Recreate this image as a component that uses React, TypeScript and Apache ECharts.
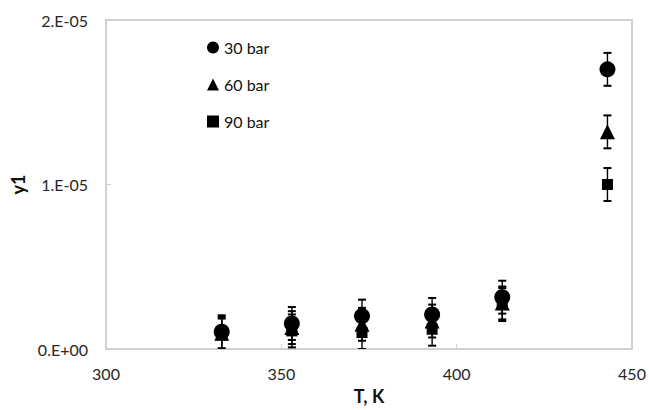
import React, { useEffect, useRef } from "react";
import * as echarts from "echarts";

const temps = [333, 353, 373, 393, 413, 443];
const y30 = [1.05e-6, 1.55e-6, 2.0e-6, 2.1e-6, 3.15e-6, 1.7e-5];
const y60 = [0.95e-6, 1.3e-6, 1.5e-6, 1.7e-6, 2.8e-6, 1.32e-5];
const y90 = [0.85e-6, 1.1e-6, 1.0e-6, 1.2e-6, 2.7e-6, 1.0e-5];
const err30 = [1e-6, 1e-6, 1e-6, 1e-6, 1e-6, 1e-6];
const err60 = [1e-6, 1e-6, 1e-6, 1e-6, 1e-6, 1e-6];
const err90 = [1e-6, 1e-6, 1e-6, 1e-6, 1e-6, 1e-6];
const seriesNames = ["30 bar", "60 bar", "90 bar"];
const xTicks = { min: 300, max: 450, interval: 50 };
const yTicks = { min: 0, max: 2e-5, interval: 1e-5 };

const FONT = "Lato, 'Noto Sans', sans-serif";

function fmtExp(v: number): string {
  const [m, e] = v.toExponential(0).split("e");
  const n = parseInt(e, 10);
  const sign = n < 0 ? "-" : "+";
  const abs = Math.abs(n).toString().padStart(2, "0");
  return `${m}.E${sign}${abs}`;
}

export default function App() {
  const ref = useRef<HTMLDivElement>(null);
  useEffect(() => {
    if (!ref.current) return;
    const chart = echarts.init(ref.current, undefined, { renderer: "svg" });
    const groups = [
      { name: seriesNames[0], vals: y30, err: err30, symbol: "circle", size: 16 },
      { name: seriesNames[1], vals: y60, err: err60, symbol: "triangle", size: 15 },
      { name: seriesNames[2], vals: y90, err: err90, symbol: "rect", size: 11 },
    ];
    const errSeries = groups.map((g) => ({
      type: "custom",
      name: g.name + " err",
      clip: true,
      z: 3,
      silent: true,
      encode: { x: 0, y: [1, 2] },
      data: temps.map((t, i) => [t, g.vals[i] - g.err[i], g.vals[i] + g.err[i]]),
      renderItem: (params: any, api: any) => {
        const x = api.value(0);
        const pLo = api.coord([x, api.value(1)]);
        const pHi = api.coord([x, api.value(2)]);
        const w = 4;
        const st = { stroke: "#000", lineWidth: 1.4 };
        return {
          type: "group",
          children: [
            { type: "line", shape: { x1: pHi[0], y1: pHi[1], x2: pLo[0], y2: pLo[1] }, style: st },
            { type: "line", shape: { x1: pHi[0] - w, y1: pHi[1], x2: pHi[0] + w, y2: pHi[1] }, style: { stroke: "#000", lineWidth: 2 } },
            { type: "line", shape: { x1: pLo[0] - w, y1: pLo[1], x2: pLo[0] + w, y2: pLo[1] }, style: { stroke: "#000", lineWidth: 2 } },
          ],
        };
      },
    }));
    const scatterSeries = groups.map((g) => ({
      type: "scatter",
      name: g.name,
      symbol: g.symbol,
      symbolSize: g.size,
      z: 4,
      itemStyle: { color: "#000", opacity: 1 },
      data: temps.map((t, i) => [t, g.vals[i]]),
    }));
    chart.setOption({
      animation: false,
      grid: {
        left: 106,
        right: 17,
        top: 20,
        bottom: 55,
        show: true,
        borderColor: "#d0d0d0",
        borderWidth: 2,
      },
      legend: {
        data: [
          { name: seriesNames[0], icon: "circle" },
          { name: seriesNames[1], icon: "triangle" },
          { name: seriesNames[2], icon: "rect" },
        ],
        orient: "vertical",
        left: 202,
        top: 34,
        itemWidth: 12,
        itemHeight: 12,
        itemGap: 20,
        itemStyle: { color: "#000", opacity: 1 },
        textStyle: { fontFamily: FONT, fontSize: 16, color: "#111", lineHeight: 17 },
      },
      xAxis: {
        type: "value",
        min: xTicks.min,
        max: xTicks.max,
        interval: xTicks.interval,
        name: "T, K",
        nameLocation: "middle",
        nameGap: 38,
        nameTextStyle: { fontFamily: FONT, fontSize: 18, fontWeight: "bold", color: "#111" },
        axisLine: { show: true, lineStyle: { color: "#d0d0d0", width: 2 } },
        axisTick: { show: true, inside: true, length: 5, lineStyle: { color: "#d0d0d0", width: 1 } },
        axisLabel: { fontFamily: FONT, fontSize: 16, color: "#262626", margin: 16 },
        splitLine: { show: false },
      },
      yAxis: {
        type: "value",
        min: yTicks.min,
        max: yTicks.max,
        interval: yTicks.interval,
        name: "y1",
        nameLocation: "middle",
        nameGap: 78,
        nameTextStyle: { fontFamily: FONT, fontSize: 18, fontWeight: "bold", color: "#111" },
        axisLine: { show: true, lineStyle: { color: "#d0d0d0", width: 2 } },
        axisTick: { show: true, inside: true, length: 5, lineStyle: { color: "#d0d0d0", width: 1 } },
        axisLabel: { fontFamily: FONT, fontSize: 16, color: "#262626", margin: 18, formatter: (v: number) => fmtExp(v) },
        splitLine: { show: false },
      },
      series: [...errSeries, ...scatterSeries],
    });
    return () => chart.dispose();
  }, []);
  return (
    <div
      ref={ref}
      style={{ position: "fixed", left: 0, top: 0, width: 649, height: 410, background: "#fff" }}
    />
  );
}
